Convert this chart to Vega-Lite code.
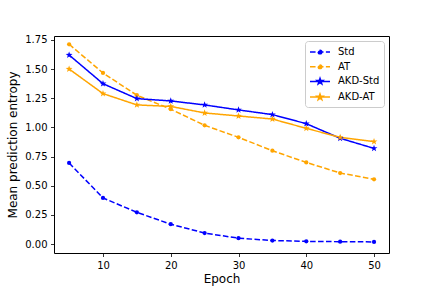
{
  "$schema": "https://vega.github.io/schema/vega-lite/v6.json",
  "width": 335,
  "height": 217,
  "autosize": {"type": "none"},
  "padding": {"left": 54, "top": 36, "right": 43, "bottom": 35},
  "background": "white",
  "config": {
    "view": {"stroke": "black", "strokeWidth": 1},
    "font": "DejaVu Sans",
    "axis": {
      "grid": false, "domain": false, "tickColor": "black", "tickSize": 3.5, "tickWidth": 0.8,
      "labelFont": "DejaVu Sans", "labelFontSize": 10, "labelColor": "black", "labelPadding": 3.5,
      "titleFont": "DejaVu Sans", "titleFontSize": 12, "titleFontWeight": "normal", "titleColor": "black"
    }
  },
  "data": {"values": [
    {"epoch": 5, "series": "Std", "value": 0.695},
    {"epoch": 10, "series": "Std", "value": 0.395},
    {"epoch": 15, "series": "Std", "value": 0.272},
    {"epoch": 20, "series": "Std", "value": 0.17},
    {"epoch": 25, "series": "Std", "value": 0.094},
    {"epoch": 30, "series": "Std", "value": 0.05},
    {"epoch": 35, "series": "Std", "value": 0.03},
    {"epoch": 40, "series": "Std", "value": 0.023},
    {"epoch": 45, "series": "Std", "value": 0.02},
    {"epoch": 50, "series": "Std", "value": 0.018},
    {"epoch": 5, "series": "AT", "value": 1.713},
    {"epoch": 10, "series": "AT", "value": 1.467},
    {"epoch": 15, "series": "AT", "value": 1.276},
    {"epoch": 20, "series": "AT", "value": 1.156},
    {"epoch": 25, "series": "AT", "value": 1.018},
    {"epoch": 30, "series": "AT", "value": 0.915},
    {"epoch": 35, "series": "AT", "value": 0.8},
    {"epoch": 40, "series": "AT", "value": 0.7},
    {"epoch": 45, "series": "AT", "value": 0.609},
    {"epoch": 50, "series": "AT", "value": 0.555},
    {"epoch": 5, "series": "AKD-Std", "value": 1.621},
    {"epoch": 10, "series": "AKD-Std", "value": 1.375},
    {"epoch": 15, "series": "AKD-Std", "value": 1.247},
    {"epoch": 20, "series": "AKD-Std", "value": 1.227},
    {"epoch": 25, "series": "AKD-Std", "value": 1.193},
    {"epoch": 30, "series": "AKD-Std", "value": 1.15},
    {"epoch": 35, "series": "AKD-Std", "value": 1.11},
    {"epoch": 40, "series": "AKD-Std", "value": 1.032},
    {"epoch": 45, "series": "AKD-Std", "value": 0.907},
    {"epoch": 50, "series": "AKD-Std", "value": 0.82},
    {"epoch": 5, "series": "AKD-AT", "value": 1.501},
    {"epoch": 10, "series": "AKD-AT", "value": 1.29},
    {"epoch": 15, "series": "AKD-AT", "value": 1.193},
    {"epoch": 20, "series": "AKD-AT", "value": 1.18},
    {"epoch": 25, "series": "AKD-AT", "value": 1.124},
    {"epoch": 30, "series": "AKD-AT", "value": 1.098},
    {"epoch": 35, "series": "AKD-AT", "value": 1.072},
    {"epoch": 40, "series": "AKD-AT", "value": 0.992},
    {"epoch": 45, "series": "AKD-AT", "value": 0.915},
    {"epoch": 50, "series": "AKD-AT", "value": 0.878}
  ]},
  "encoding": {
    "x": {"field": "epoch", "type": "quantitative", "title": "Epoch",
      "scale": {"domain": [2.77, 52.21], "nice": false, "zero": false},
      "axis": {"values": [10, 20, 30, 40, 50], "titlePadding": 3}},
    "y": {"field": "value", "type": "quantitative", "title": "Mean prediction entropy",
      "scale": {"domain": [-0.077, 1.784], "nice": false, "zero": false},
      "axis": {"values": [0, 0.25, 0.5, 0.75, 1.0, 1.25, 1.5, 1.75], "format": ".2f", "titlePadding": 5}},
    "color": {"field": "series", "type": "nominal",
      "scale": {"domain": ["Std", "AT", "AKD-Std", "AKD-AT"], "range": ["#0000ff", "#ffa500", "#0000ff", "#ffa500"]},
      "legend": {
        "title": null, "orient": "top-right", "offset": 5,
        "padding": 4, "strokeColor": "#cccccc", "fillColor": "rgba(255,255,255,0.8)", "cornerRadius": 3,
        "labelFont": "DejaVu Sans", "labelFontSize": 10, "labelColor": "black",
        "symbolSize": 144, "symbolStrokeWidth": 1.5, "symbolOffset": 4, "labelOffset": 11, "rowPadding": 2.7,
        "symbolType": "circle",
        "encode": {
          "symbols": {"update": {
            "shape": {"signal": "datum.value == 'Std' || datum.value == 'AT' ? 'M-1.667,0H-0.742M-0.342,0H0.583M0.983,0H1.667M0.3,0A0.3,0.3 0 1,1 -0.3,0A0.3,0.3 0 1,1 0.3,0Z' : 'M-1.667,0H1.667M0,-0.5L0.118,-0.162L0.476,-0.155L0.19,0.062L0.294,0.405L0,0.2L-0.294,0.405L-0.19,0.062L-0.476,-0.155L-0.118,-0.162Z'"},
            "fill": {"scale": "color", "field": "value"},
            "stroke": {"scale": "color", "field": "value"},
            "strokeDash": {"value": [1, 0]},
            "fillOpacity": {"value": 1},
            "opacity": {"value": 1}
          }}
        }
      }}
  },
  "layer": [
    {
      "mark": {"type": "line", "strokeWidth": 1.5},
      "encoding": {
        "strokeDash": {"field": "series", "type": "nominal", "legend": null,
          "scale": {"domain": ["Std", "AT", "AKD-Std", "AKD-AT"], "range": [[5.55, 2.4], [5.55, 2.4], [1, 0], [1, 0]]}}
      }
    },
    {
      "transform": [{"filter": "datum.series == 'Std' || datum.series == 'AT'"}],
      "mark": {"type": "point", "shape": "circle", "filled": true, "size": 18, "opacity": 1}
    },
    {
      "transform": [{"filter": "datum.series == 'AKD-Std' || datum.series == 'AKD-AT'"}],
      "mark": {"type": "point", "filled": true, "size": 52, "opacity": 1, "strokeWidth": 1,
        "shape": "M0,-1L0.235,-0.324L0.951,-0.309L0.38,0.124L0.588,0.809L0,0.4L-0.588,0.809L-0.38,0.124L-0.951,-0.309L-0.235,-0.324Z"}
    }
  ]
}
